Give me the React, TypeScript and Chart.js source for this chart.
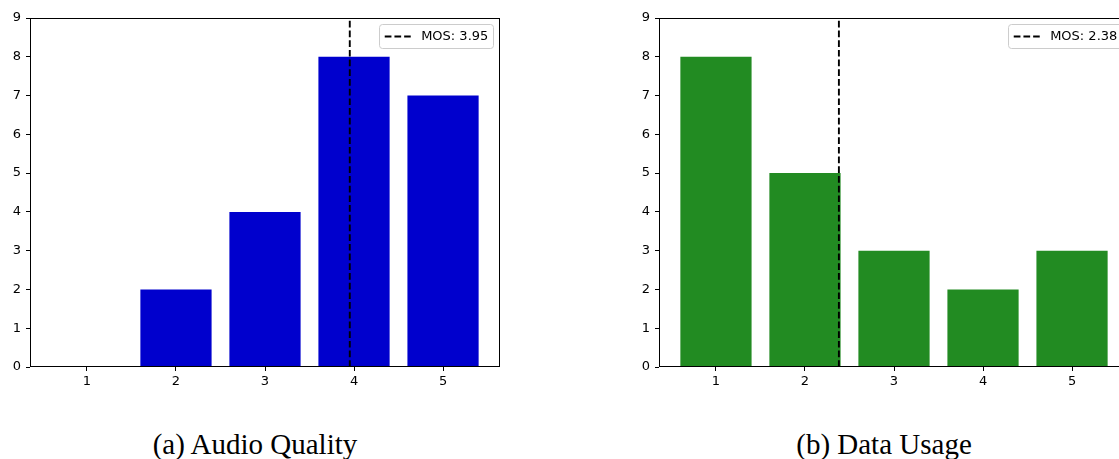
import React, { useEffect, useRef } from 'react';
import { Chart, registerables } from 'chart.js';

Chart.register(...registerables);

// Rating scale (1 = worst, 5 = best) and number of responses per rating
const RATINGS = [1, 2, 3, 4, 5];
const AUDIO_QUALITY_COUNTS = [0, 2, 4, 8, 7];
const DATA_USAGE_COUNTS = [8, 5, 3, 2, 3];
const COUNT_TICKS = [0, 1, 2, 3, 4, 5, 6, 7, 8, 9];

const AUDIO_COLOR = '#0000cd';
const DATA_COLOR = '#228b22';

// x range: bars of width 0.8 centred on 1..5 plus 5% margins
const X_MIN = 0.36;
const X_MAX = 5.64;
const Y_MIN = 0;
const Y_MAX = 9;

const TICK_FONT = { family: '"DejaVu Sans", sans-serif', size: 13 };
const DASH = [6.7, 3];

function meanOpinionScore(counts: number[]): number {
  const total = counts.reduce((a, b) => a + b, 0);
  return counts.reduce((s, c, i) => s + c * RATINGS[i], 0) / total;
}

// Draws the four spines and a boxed legend for the dashed MOS line
const frameAndLegend = {
  id: 'frameAndLegend',
  afterDraw(chart: any) {
    const { ctx, chartArea: a } = chart;
    const label: string = chart.options.plugins.frameAndLegend.label;
    ctx.save();
    ctx.strokeStyle = '#000';
    ctx.lineWidth = 1;
    ctx.setLineDash([]);
    ctx.strokeRect(a.left + 0.5, a.top + 0.5, a.right - a.left - 1, a.bottom - a.top - 1);

    const fs = 13;
    ctx.font = `${fs}px "DejaVu Sans", sans-serif`;
    const textW = ctx.measureText(label).width;
    const pad = 0.4 * fs;
    const handle = 2 * fs;
    const gap = 0.8 * fs;
    const boxW = pad + handle + gap + textW + pad;
    const boxH = 24;
    const bx = a.right - 0.5 * fs - boxW;
    const by = a.top + 0.5 * fs;
    const r = 3;
    ctx.beginPath();
    ctx.moveTo(bx + r, by);
    ctx.arcTo(bx + boxW, by, bx + boxW, by + boxH, r);
    ctx.arcTo(bx + boxW, by + boxH, bx, by + boxH, r);
    ctx.arcTo(bx, by + boxH, bx, by, r);
    ctx.arcTo(bx, by, bx + boxW, by, r);
    ctx.closePath();
    ctx.fillStyle = 'rgba(255,255,255,0.8)';
    ctx.fill();
    ctx.strokeStyle = '#cccccc';
    ctx.lineWidth = 1;
    ctx.stroke();

    const cy = by + boxH / 2;
    ctx.beginPath();
    ctx.setLineDash(DASH);
    ctx.strokeStyle = '#000';
    ctx.lineWidth = 1.9;
    ctx.moveTo(bx + pad, cy);
    ctx.lineTo(bx + pad + handle, cy);
    ctx.stroke();
    ctx.setLineDash([]);

    ctx.fillStyle = '#000';
    ctx.textBaseline = 'middle';
    ctx.textAlign = 'left';
    ctx.fillText(label, bx + pad + handle + gap, cy + 0.5);
    ctx.restore();
  },
};

function RatingPanel({ counts, color, left, caption }: { counts: number[]; color: string; left: number; caption: string }) {
  const ref = useRef<HTMLCanvasElement>(null);

  useEffect(() => {
    const canvas = ref.current;
    if (!canvas) return;
    const mos = meanOpinionScore(counts);
    const chart = new Chart(canvas, {
      type: 'bar',
      data: {
        datasets: [
          {
            type: 'line',
            data: [
              { x: mos, y: Y_MIN },
              { x: mos, y: Y_MAX },
            ],
            borderColor: '#000',
            borderWidth: 1.9,
            borderDash: DASH,
            pointRadius: 0,
            order: 0,
          } as any,
          {
            type: 'bar',
            data: RATINGS.map((r, i) => ({ x: r, y: counts[i] })),
            backgroundColor: color,
            borderWidth: 0,
            barPercentage: 0.8,
            categoryPercentage: 1,
            order: 1,
          } as any,
        ],
      },
      options: {
        responsive: false,
        animation: false,
        devicePixelRatio: 1,
        layout: { padding: { top: 18, right: 20, left: 0, bottom: 0 } },
        plugins: {
          legend: { display: false },
          tooltip: { enabled: false },
          frameAndLegend: { label: `MOS: ${mos.toFixed(2)}` },
        } as any,
        scales: {
          x: {
            type: 'linear',
            min: X_MIN,
            max: X_MAX,
            offset: false,
            afterBuildTicks: (axis: any) => {
              axis.ticks = RATINGS.map((v) => ({ value: v }));
            },
            afterFit: (axis: any) => {
              axis.height = 33;
            },
            grid: { offset: false, drawOnChartArea: false, drawTicks: true, tickLength: 4, color: '#000' },
            border: { display: false },
            ticks: { color: '#000', font: TICK_FONT, padding: 3, maxRotation: 0, autoSkip: false },
          },
          y: {
            type: 'linear',
            min: Y_MIN,
            max: Y_MAX,
            afterBuildTicks: (axis: any) => {
              axis.ticks = COUNT_TICKS.map((v) => ({ value: v }));
            },
            afterFit: (axis: any) => {
              axis.width = 30;
            },
            grid: { offset: false, drawOnChartArea: false, drawTicks: true, tickLength: 4, color: '#000' },
            border: { display: false },
            ticks: { color: '#000', font: TICK_FONT, padding: 5, autoSkip: false },
          },
        },
      } as any,
      plugins: [frameAndLegend],
    });
    return () => chart.destroy();
  }, [counts, color]);

  return (
    <>
      <canvas
        ref={ref}
        width={520}
        height={400}
        style={{ position: 'absolute', left, top: 0, width: 520, height: 400 }}
      />
      <div
        style={{
          position: 'absolute',
          left,
          top: 430,
          width: 510,
          textAlign: 'center',
          fontFamily: '"Liberation Serif", serif',
          fontSize: 29,
          lineHeight: '29px',
          color: '#000',
          whiteSpace: 'nowrap',
        }}
      >
        {caption}
      </div>
    </>
  );
}

export default function App() {
  return (
    <div
      style={{
        position: 'fixed',
        left: 0,
        top: 0,
        width: 1119,
        height: 459,
        overflow: 'hidden',
        background: '#fff',
      }}
    >
      <RatingPanel counts={AUDIO_QUALITY_COUNTS} color={AUDIO_COLOR} left={0} caption="(a) Audio Quality" />
      <RatingPanel counts={DATA_USAGE_COUNTS} color={DATA_COLOR} left={629} caption="(b) Data Usage" />
    </div>
  );
}
